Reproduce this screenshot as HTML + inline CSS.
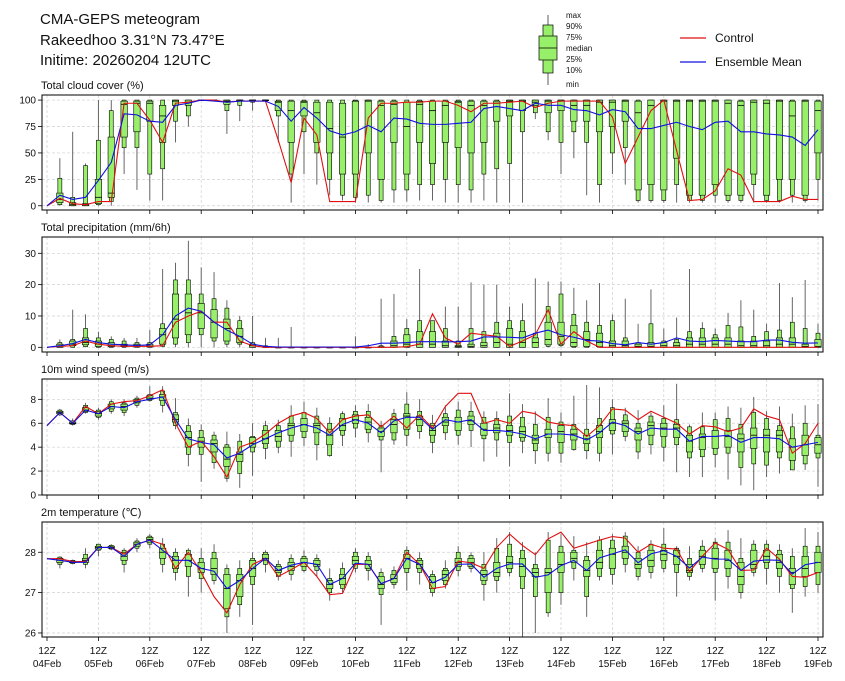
<!DOCTYPE html>
<html><head><meta charset="utf-8"><title>CMA-GEPS meteogram</title>
<style>
html,body{margin:0;padding:0;background:#fff;}
svg{display:block;font-family:"Liberation Sans","DejaVu Sans",sans-serif;}
</style></head>
<body>
<svg id="chart" width="845" height="681" viewBox="0 0 845 681" xmlns="http://www.w3.org/2000/svg">
<g>
<text x="40" y="24" font-size="15" fill="#111">CMA-GEPS meteogram</text>
<text x="40" y="45" font-size="15" fill="#111">Rakeedhoo 3.31°N 73.47°E</text>
<text x="40" y="65" font-size="15" fill="#111">Initime: 20260204 12UTC</text>
</g>
<g>
<line x1="548" y1="15" x2="548" y2="85" stroke="#333" stroke-width="0.8"/>
<rect x="543" y="25" width="10" height="48" fill="#98f06a" stroke="#000" stroke-width="0.7"/>
<rect x="539" y="36" width="18" height="24" fill="#98f06a" stroke="#000" stroke-width="0.7"/>
<line x1="539" y1="48" x2="557" y2="48" stroke="#000" stroke-width="0.8"/>
<g font-size="8" fill="#111">
<text x="566" y="18">max</text><text x="566" y="29">90%</text><text x="566" y="40">75%</text>
<text x="566" y="51">median</text><text x="566" y="62">25%</text><text x="566" y="73">10%</text><text x="566" y="87">min</text>
</g>
</g>
<g>
<line x1="680" y1="38" x2="706" y2="38" stroke="#e01010" stroke-width="1.2"/>
<text x="715" y="42" font-size="12" fill="#111">Control</text>
<line x1="680" y1="62" x2="706" y2="62" stroke="#1010e0" stroke-width="1.2"/>
<text x="715" y="66" font-size="12" fill="#111">Ensemble Mean</text>
</g>
<g id="panels"></g>
</svg>
<script>
// ---- categories: 6-hourly steps from 04Feb 12Z to 19Feb 12Z (61 steps)
const dayLabels = ["04Feb","05Feb","06Feb","07Feb","08Feb","09Feb","10Feb","11Feb","12Feb","13Feb","14Feb","15Feb","16Feb","17Feb","18Feb","19Feb"];
const stepCount = 61;

// ---- Total cloud cover (%)
const cloudTicks = [0,25,50,75,100];
const cloudCtrl = [0,7,2,1,4,4,97,97,81,60,97,98,100,100,98,99,99,99,62,22,83,67,4,4,4,83,97,97,98,98,99,99,95,89,97,97,98,99,93,97,99,99,99,99,84,40,65,90,100,52,5,6,14,35,29,4,4,4,9,6,6];
const cloudMean = [0,10,6,8,24,41,87,86,80,79,95,97,100,99,98,99,99,99,94,80,93,83,71,67,70,76,70,83,82,78,77,77,78,79,92,94,92,90,97,95,95,91,90,86,91,89,73,73,76,79,75,72,79,80,70,70,68,67,65,57,72];
const cloudLo = [0,0,0,0,0,0,30,15,5,5,60,75,100,99,68,80,90,98,60,3,30,20,10,5,3,3,3,3,4,5,5,3,3,3,5,3,3,3,82,62,30,45,10,3,30,20,3,3,3,3,3,3,3,3,3,3,3,3,3,3,5];
const cloudP10 = [0,1,0,0,1,4,55,55,30,35,80,85,100,99,90,95,98,99,85,30,70,50,25,10,8,10,5,15,15,20,20,25,20,15,30,35,40,70,88,70,60,70,60,20,50,55,5,5,5,20,5,5,10,5,5,20,5,5,10,5,25];
const cloudP25 = [0,3,0,0,2,8,65,70,80,60,95,95,100,100,96,99,99,100,90,60,85,60,50,30,30,50,25,60,30,60,40,60,55,50,60,80,85,90,95,88,90,80,80,70,75,80,15,20,15,45,10,10,20,10,10,30,10,25,25,10,50];
const cloudMed = [0,6,1,1,8,12,96,97,97,85,99,98,100,100,99,100,100,100,98,90,98,88,73,65,99,99,95,96,75,96,90,95,98,95,95,97,99,99,98,99,99,95,95,98,98,99,88,95,99,99,99,99,99,97,95,98,97,99,85,99,90];
const cloudP75 = [0,12,3,2,25,65,99,99,99,95,100,100,100,100,100,100,100,100,99,99,99,98,98,97,99,100,99,99,98,99,99,99,99,99,99,99,100,100,100,100,100,100,100,100,100,100,99,100,100,100,100,100,100,100,99,100,100,100,99,100,99];
const cloudP90 = [0,26,8,38,62,90,100,100,100,100,100,100,100,100,100,100,100,100,100,100,100,100,100,100,100,100,100,100,100,100,100,100,100,100,100,100,100,100,100,100,100,100,100,100,100,100,100,100,100,100,100,100,100,100,100,100,100,100,100,100,100];
const cloudHi = [0,45,70,40,100,100,100,100,100,100,100,100,100,100,100,100,100,100,100,100,100,100,100,100,100,100,100,100,100,100,100,100,100,100,100,100,100,100,100,100,100,100,100,100,100,100,100,100,100,100,100,100,100,100,100,100,100,100,100,100,100];

// ---- Total precipitation (mm/6h)
const precTicks = [0,10,20,30];
const precCtrl = [0,0.3,0.5,2,1,0.5,0.3,0.3,0.3,0.5,8,10,11.5,8,8,2,0.5,0,0,0,0,0,0,0,0,0,0,0,0.2,1,10.7,3,1,4.5,4,3.5,0.3,2,4,12,1,5,2,0,0,0,0,0,0,0,0,0,0,0,0,0,0,0,0,0,0];
const precMean = [0,0.5,1.2,2.5,1.5,1,0.8,0.6,0.8,4,10,12.5,11.5,8,5.5,3.5,1,0.3,0.1,0.1,0.1,0.1,0.1,0.1,0.1,0.5,1.3,1.3,1.5,1.8,1.8,1.7,1.8,2,3.3,3.3,3.2,3,4.5,5.5,4,3.2,2.2,2,1.2,0.8,1.5,1,1.5,3,2,1.8,2.2,2,1.8,1.8,2.3,2.3,1.6,1.3,1.4];
const precLo = [0,0,0,0,0,0,0,0,0,0,0,0,0,0,0,0,0,0,0,0,0,0,0,0,0,0,0,0,0,0,0,0,0,0,0,0,0,0,0,0,0,0,0,0,0,0,0,0,0,0,0,0,0,0,0,0,0,0,0,0,0];
const precP10 = [0,0,0,0.2,0,0,0,0,0,0.3,1,1.5,4,2,1,1,0,0,0,0,0,0,0,0,0,0,0,0,0,0,0,0,0,0,0,0,0,0,0,0.3,0.5,0,0,0,0,0,0,0,0,0,0,0,0,0,0,0,0,0,0,0,0];
const precP25 = [0,0,0.5,0.8,0.3,0.2,0.2,0.1,0.1,1,3,4,6,3,2,1.5,0,0,0,0,0,0,0,0,0,0,0,0,0,0,0,0,0,0,0,0,0,0,0,0.8,1,0.3,0.3,0.2,0,0,0,0,0,0,0,0,0,0,0,0,0,0,0,0,0];
const precMed = [0,0.3,1,1.5,1,0.5,0.5,0.3,0.4,4,9,11,11,8,6,3.5,0.5,0,0,0,0,0,0,0,0,0,0,0.5,1,1,1,0.5,0.2,0.3,0.5,1.5,1,1.5,1.5,2.5,3.5,1.5,2.5,1.5,0.5,0.5,0.3,0.3,0.5,0.5,1,1,1,1,0.5,0.5,0.5,1,1,0.3,0.3];
const precP75 = [0,1,2,3,2,1.5,1,1,1,6,17,17,14,12,9,6,1,0.2,0,0,0,0,0,0,0,0,0.2,2,4,5,5,2,0.5,1,1.5,4.5,6,5,3,8,8,7,5,4.5,2,2,1,1.5,1.5,1.5,3,3,3,3,2,2,2,3,3,1,2.5];
const precP90 = [0,1.5,2.5,6,3,2.5,2,1.5,1.5,7.5,21.5,21.5,17,15.5,12.5,8.5,1.5,0.5,0,0,0,0,0,0,0,0,0.5,3.5,6,8.5,8.5,6,2,6,5,8,8.5,8.5,4.5,13,17,10.5,8,7,8.5,3,1.5,7.5,2,2.5,5,6,4,7,6.5,3.5,5,5.5,8,6,4.5];
const precHi = [0,2.5,12,10.5,5,3.5,3,3,5.5,25,27,34,25.5,24,15,10,10,3,3,6.5,0,0,0,0,3.5,1,15.5,17,9,25,8.5,13,13,20.7,20,20,13,14,22,21,21,19,15,20.5,10.5,15.5,7.5,18.5,6,9.5,25,8,6,11,15,12,7.5,20.5,16,21.5,7.5];

// ---- 10m wind speed (m/s)
const windTicks = [0,2,4,6,8];
const windCtrl = [5.8,6.9,6.0,7.4,6.8,7.6,7.8,7.9,8.3,8.8,6.0,4.0,4.5,3.2,1.5,4.0,4.4,5.1,6.0,6.6,6.9,6.4,5.2,6.3,6.6,6.7,5.7,6.6,5.6,6.7,5.6,7.4,8.5,8.5,6.0,6.3,6.0,7.0,6.8,6.1,5.9,5.8,4.9,5.8,7.2,7.1,6.3,7.0,6.5,6.0,5.1,5.8,5.7,5.3,5.6,7.2,6.6,6.3,3.5,4.3,6.0];
const windMean = [5.8,6.9,6.0,7.1,6.8,7.4,7.3,7.8,8.0,8.2,6.3,4.7,4.4,4.2,3.1,3.5,4.2,4.7,5.2,5.6,5.9,5.6,5.0,5.9,6.3,6.0,5.2,6.2,6.5,6.5,5.5,6.3,6.1,6.3,5.4,5.4,5.3,5.1,4.7,5.1,5.1,5.0,4.6,5.2,6.1,5.8,5.1,5.6,5.5,5.5,4.5,4.9,4.9,5.0,4.4,4.8,4.8,4.7,4.0,4.2,4.4];
const windLo = [5.8,6.6,5.8,6.8,6.3,6.8,6.6,7.3,7.8,6.9,5.5,2.4,1.1,2.2,1.1,0.6,1.6,3.0,3.5,3.2,4.1,2.9,3.2,4.1,4.8,4.4,1.9,4.2,4.1,4.7,3.5,4.6,4.2,4.0,2.8,3.2,2.4,3.5,2.6,2.8,2.7,3.7,3.0,2.8,3.4,4.5,3.0,3.4,2.8,1.9,1.5,1.5,2.3,1.3,0.8,0.4,1.5,1.8,2.1,2.1,0.7];
const windP10 = [5.8,6.7,5.9,6.9,6.5,7.0,6.9,7.5,7.9,7.5,5.8,3.4,3.4,2.7,1.4,1.8,3.6,3.9,4.0,4.5,4.8,4.2,3.3,5.0,5.6,5.2,4.6,4.6,5.0,5.3,4.4,5.2,5.0,5.4,4.7,4.6,4.4,4.5,3.7,3.5,3.5,3.8,3.7,3.5,5.1,4.9,3.6,4.2,4.0,4.2,3.1,3.2,3.4,3.5,2.3,2.6,2.5,3.1,2.1,2.6,3.1];
const windP25 = [5.8,6.8,5.95,7.0,6.6,7.2,7.1,7.7,8.0,7.9,6.1,4.0,4.0,3.6,2.4,2.8,4.0,4.3,4.5,5.0,5.3,5.2,4.2,5.4,6.0,5.5,4.9,5.2,5.5,5.8,5.0,5.8,5.4,5.9,5.0,5.2,5.0,4.8,4.3,4.8,4.4,4.6,4.3,4.8,5.4,5.3,4.6,5.0,4.9,4.8,3.6,3.8,3.9,4.0,3.6,3.9,3.6,3.6,2.9,3.3,3.5];
const windMed = [5.8,6.9,6.0,7.1,6.8,7.4,7.4,7.8,8.1,8.2,6.3,4.8,4.5,4.3,3.0,3.4,4.3,4.7,4.9,5.8,5.9,5.8,5.0,5.8,6.3,6.1,5.3,5.9,6.6,6.3,5.4,6.1,6.1,6.2,5.5,5.6,5.4,5.3,4.6,5.1,5.3,5.1,4.7,5.3,6.0,6.0,5.3,5.8,5.6,5.6,4.5,4.8,4.9,4.9,4.7,5.0,5.0,5.0,4.0,4.2,4.2];
const windP75 = [5.8,7.0,6.1,7.3,7.0,7.6,7.6,8.0,8.3,8.4,6.7,5.3,4.8,4.6,4.0,3.6,4.8,5.4,5.4,6.0,6.4,6.0,5.5,6.4,6.7,6.5,5.6,6.3,6.8,6.6,5.8,6.5,6.5,6.6,6.0,5.9,5.8,5.7,5.0,5.5,5.8,5.5,5.0,5.8,6.3,6.2,5.6,6.1,6.0,5.9,5.0,5.1,5.4,5.4,5.1,5.6,5.5,5.4,4.7,5.0,4.8];
const windP90 = [5.8,7.1,6.2,7.5,7.1,7.8,7.7,8.1,8.4,8.7,6.9,5.8,5.4,5.0,4.2,4.5,4.9,5.8,5.8,6.6,6.9,6.6,6.0,6.8,7.0,7.0,5.8,6.8,7.6,7.0,6.0,6.8,7.1,7.0,6.5,6.4,6.6,6.5,5.9,6.5,6.1,5.9,5.5,6.4,7.3,6.7,6.0,6.6,6.4,6.3,5.7,5.7,6.3,6.4,5.9,6.9,6.4,5.8,5.7,6.0,5.0];
const windHi = [5.8,7.2,6.4,7.7,7.3,8.0,8.0,8.3,9.1,9.1,8.1,6.4,5.9,5.3,5.3,5.1,6.0,6.2,6.3,7.5,7.8,7.3,6.5,7.0,7.5,7.6,6.2,7.2,8.6,8.0,6.7,7.5,7.8,7.8,7.0,7.0,8.5,7.6,7.0,8.1,6.9,8.3,9.2,9.0,8.0,7.3,7.1,6.9,7.5,9.3,5.9,6.9,6.9,7.4,7.3,8.2,7.0,7.4,6.8,7.5,7.6];

// ---- 2m temperature (°C)
const tempTicks = [26,27,28];
const tempCtrl = [27.84,27.84,27.77,27.77,28.12,28.12,27.95,28.2,28.3,28.2,27.6,28.0,27.5,26.9,26.5,27.2,27.7,27.85,27.4,27.57,27.75,27.4,26.95,26.98,27.7,27.7,27.22,27.35,28.0,27.7,27.1,27.15,27.78,27.74,27.6,28.12,28.45,28.17,27.94,28.33,28.5,28.1,28.2,28.3,28.39,28.35,28.0,28.2,28.1,28.08,27.52,27.9,28.23,28.07,27.55,27.56,28.1,27.83,27.4,27.38,27.5];
const tempMean = [27.84,27.8,27.75,27.75,28.12,28.12,27.9,28.2,28.3,28.05,27.8,27.8,27.6,27.53,27.1,27.3,27.6,27.85,27.55,27.68,27.75,27.7,27.2,27.35,27.73,27.7,27.22,27.35,27.85,27.7,27.24,27.38,27.7,27.71,27.38,27.6,27.71,27.71,27.38,27.44,27.67,27.8,27.55,27.86,27.96,28.06,27.74,27.96,28.04,27.9,27.61,27.88,27.83,27.83,27.55,27.78,27.81,27.8,27.46,27.69,27.75];
const tempLo = [27.84,27.6,27.7,27.6,27.9,28.05,27.5,28.0,28.1,27.5,27.3,26.9,27.0,27.2,26.0,26.4,26.2,27.5,27.3,27.3,27.5,27.4,26.8,27.0,27.5,27.3,26.2,27.1,27.05,27.2,26.9,27.1,27.4,27.5,26.8,27.0,27.4,25.9,26.0,26.4,26.7,27.3,26.4,27.3,27.2,27.5,27.3,27.35,27.5,26.9,27.3,27.5,26.8,27.1,26.85,27.4,27.2,27.0,26.5,26.9,27.0];
const tempP10 = [27.84,27.7,27.72,27.7,28.05,28.08,27.7,28.1,28.2,27.7,27.5,27.4,27.35,27.3,26.4,26.7,27.2,27.7,27.4,27.45,27.55,27.55,27.0,27.1,27.6,27.55,26.95,27.2,27.5,27.5,27.0,27.2,27.55,27.6,27.2,27.3,27.5,27.1,26.9,26.5,27.0,27.6,26.9,27.4,27.45,27.7,27.4,27.5,27.6,27.5,27.4,27.6,27.5,27.4,27.0,27.5,27.6,27.4,27.1,27.15,27.2];
const tempP25 = [27.84,27.75,27.74,27.75,28.08,28.1,27.8,28.15,28.25,27.85,27.6,27.65,27.5,27.45,26.6,26.9,27.4,27.8,27.5,27.55,27.65,27.65,27.1,27.2,27.7,27.6,27.1,27.25,27.6,27.6,27.1,27.3,27.65,27.65,27.3,27.4,27.6,27.4,27.4,27.0,27.5,27.75,27.4,27.6,27.6,27.85,27.6,27.65,27.8,27.7,27.5,27.7,27.6,27.6,27.2,27.6,27.75,27.6,27.2,27.4,27.5];
const tempMed = [27.84,27.8,27.76,27.8,28.12,28.12,27.9,28.2,28.32,28.0,27.8,27.8,27.6,27.6,27.1,27.3,27.6,27.85,27.55,27.65,27.75,27.7,27.2,27.35,27.8,27.7,27.2,27.35,27.85,27.7,27.25,27.45,27.75,27.75,27.45,27.5,27.75,27.65,27.5,27.5,27.7,27.85,27.55,27.75,27.95,28.0,27.7,27.8,27.95,27.9,27.55,27.9,27.85,27.8,27.4,27.7,27.9,27.75,27.5,27.6,27.75];
const tempP75 = [27.84,27.85,27.78,27.85,28.15,28.15,28.0,28.25,28.37,28.1,27.9,27.95,27.75,27.85,27.45,27.45,27.8,27.95,27.65,27.75,27.85,27.8,27.3,27.45,27.9,27.8,27.4,27.45,27.95,27.8,27.4,27.55,27.85,27.85,27.55,27.75,27.9,27.85,27.6,27.6,28.0,28.0,27.8,28.05,28.1,28.15,27.85,28.05,28.05,28.05,27.7,28.05,28.1,28.05,27.75,28.05,28.05,27.95,27.6,27.9,28.0];
const tempP90 = [27.84,27.88,27.8,27.95,28.2,28.17,28.05,28.28,28.4,28.2,28.0,28.05,27.85,28.0,27.6,27.6,27.85,28.0,27.7,27.85,27.9,27.85,27.35,27.6,28.0,27.9,27.5,27.55,28.05,27.85,27.45,27.6,28.0,27.92,27.7,28.1,28.2,28.05,27.7,28.3,28.15,28.05,27.9,28.3,28.3,28.4,28.0,28.2,28.2,28.1,27.85,28.15,28.25,28.25,27.85,28.2,28.2,28.05,27.9,28.15,28.15];
const tempHi = [27.84,27.9,27.82,28.1,28.2,28.2,28.1,28.35,28.45,28.35,28.1,28.1,28.1,28.2,27.7,27.8,28.0,28.05,27.8,27.95,28.05,27.95,27.6,27.75,28.1,28.0,27.6,27.65,28.15,28.0,27.55,27.8,28.15,28.0,28.0,28.35,28.5,28.25,28.0,28.5,28.45,28.4,28.25,28.4,28.45,28.5,28.15,28.3,28.6,28.15,28.15,28.3,28.35,28.55,28.35,28.3,28.3,28.2,28.1,28.6,28.5];

const NS = "http://www.w3.org/2000/svg";
const plotLeft = 42, plotRight = 823;
const x0 = 47, stepPx = 12.85;
function xScale(i){ return x0 + stepPx * i; }
function mk(tag, attrs, parent){
  const e = document.createElementNS(NS, tag);
  for (const k in attrs) e.setAttribute(k, attrs[k]);
  parent.appendChild(e);
  return e;
}
const root = document.getElementById("panels");

const panels = [
  {key:"cloud-cover", title:"Total cloud cover (%)", top:95, bottom:210, vmin:-4, vmax:104.8, ticks:cloudTicks,
   ctrl:cloudCtrl, mean:cloudMean, lo:cloudLo, p10:cloudP10, p25:cloudP25, med:cloudMed, p75:cloudP75, p90:cloudP90, hi:cloudHi},
  {key:"precipitation", title:"Total precipitation (mm/6h)", top:237, bottom:352, vmin:-1.5, vmax:35.2, ticks:precTicks,
   ctrl:precCtrl, mean:precMean, lo:precLo, p10:precP10, p25:precP25, med:precMed, p75:precP75, p90:precP90, hi:precHi},
  {key:"wind-speed", title:"10m wind speed (m/s)", top:379, bottom:495, vmin:0, vmax:9.7, ticks:windTicks,
   ctrl:windCtrl, mean:windMean, lo:windLo, p10:windP10, p25:windP25, med:windMed, p75:windP75, p90:windP90, hi:windHi},
  {key:"temperature", title:"2m temperature (\u2103)", top:522, bottom:637, vmin:25.9, vmax:28.75, ticks:tempTicks,
   ctrl:tempCtrl, mean:tempMean, lo:tempLo, p10:tempP10, p25:tempP25, med:tempMed, p75:tempP75, p90:tempP90, hi:tempHi}
];

panels.forEach((p, pi) => {
  const g = mk("g", {}, root);
  
  
  const y = v => p.bottom - (v - p.vmin) / (p.vmax - p.vmin) * (p.bottom - p.top);
  const t = mk("text", {x:41, y:p.top - 6, "font-size":11, fill:"#111"}, g);
  t.textContent = p.title;
  
  
  // grid
  for (let d = 0; d < dayLabels.length; d++) {
    const gx = xScale(d * 4);
    mk("line", {x1:gx, x2:gx, y1:p.top, y2:p.bottom, stroke:"#d0d0d0", "stroke-width":0.7, "stroke-dasharray":"3,2"}, g);
  }
  p.ticks.forEach(v => {
    const ty = y(v);
    mk("line", {x1:plotLeft, x2:plotRight, y1:ty, y2:ty, stroke:"#d0d0d0", "stroke-width":0.7, "stroke-dasharray":"3,2"}, g);
    mk("line", {x1:plotLeft - 4, x2:plotLeft, y1:ty, y2:ty, stroke:"#000", "stroke-width":0.8}, g);
    const lab = mk("text", {x:plotLeft - 6, y:ty + 3.5, "font-size":10, fill:"#111", "text-anchor":"end"}, g);
    lab.textContent = v;
    
    
  });
  // boxes
  for (let i = 1; i < stepCount; i++) {
    const cx = xScale(i);
    const bg = mk("g", {}, g);
    
    
    mk("line", {x1:cx, x2:cx, y1:y(p.lo[i]), y2:y(p.hi[i]), stroke:"#555", "stroke-width":0.9}, bg);
    const y90 = y(p.p90[i]), y10 = y(p.p10[i]);
    mk("rect", {x:cx - 2, y:y90, width:4, height:Math.max(0.6, y10 - y90), fill:"#98f06a", stroke:"#000", "stroke-width":0.6}, bg);
    const y75 = y(p.p75[i]), y25 = y(p.p25[i]);
    mk("rect", {x:cx - 3.2, y:y75, width:6.4, height:Math.max(0.6, y25 - y75), fill:"#98f06a", stroke:"#000", "stroke-width":0.6}, bg);
    const ym = y(p.med[i]);
    mk("line", {x1:cx - 3.2, x2:cx + 3.2, y1:ym, y2:ym, stroke:"#000", "stroke-width":0.8}, bg);
  }
  // lines
  const path = arr => arr.map((v, i) => (i ? "L" : "M") + xScale(i).toFixed(2) + "," + y(v).toFixed(2)).join(" ");
  const cl = mk("path", {d:path(p.ctrl), fill:"none", stroke:"#e01010", "stroke-width":1.1}, g);
  
  
  const ml = mk("path", {d:path(p.mean), fill:"none", stroke:"#1010e0", "stroke-width":1.1}, g);
  
  
  // frame
  mk("rect", {x:plotLeft, y:p.top, width:plotRight - plotLeft, height:p.bottom - p.top, fill:"none", stroke:"#000", "stroke-width":1}, g);
  // x ticks
  for (let d = 0; d < dayLabels.length; d++) {
    const gx = xScale(d * 4);
    mk("line", {x1:gx, x2:gx, y1:p.bottom, y2:p.bottom + 4, stroke:"#000", "stroke-width":0.8}, g);
    if (pi === panels.length - 1) {
      const a = mk("text", {x:gx, y:p.bottom + 17, "font-size":10, fill:"#111", "text-anchor":"middle"}, g);
      a.textContent = "12Z";
      
      
      const b = mk("text", {x:gx, y:p.bottom + 30, "font-size":10, fill:"#111", "text-anchor":"middle"}, g);
      b.textContent = dayLabels[d];
      
      
    }
  }
});
</script>
</body></html>
